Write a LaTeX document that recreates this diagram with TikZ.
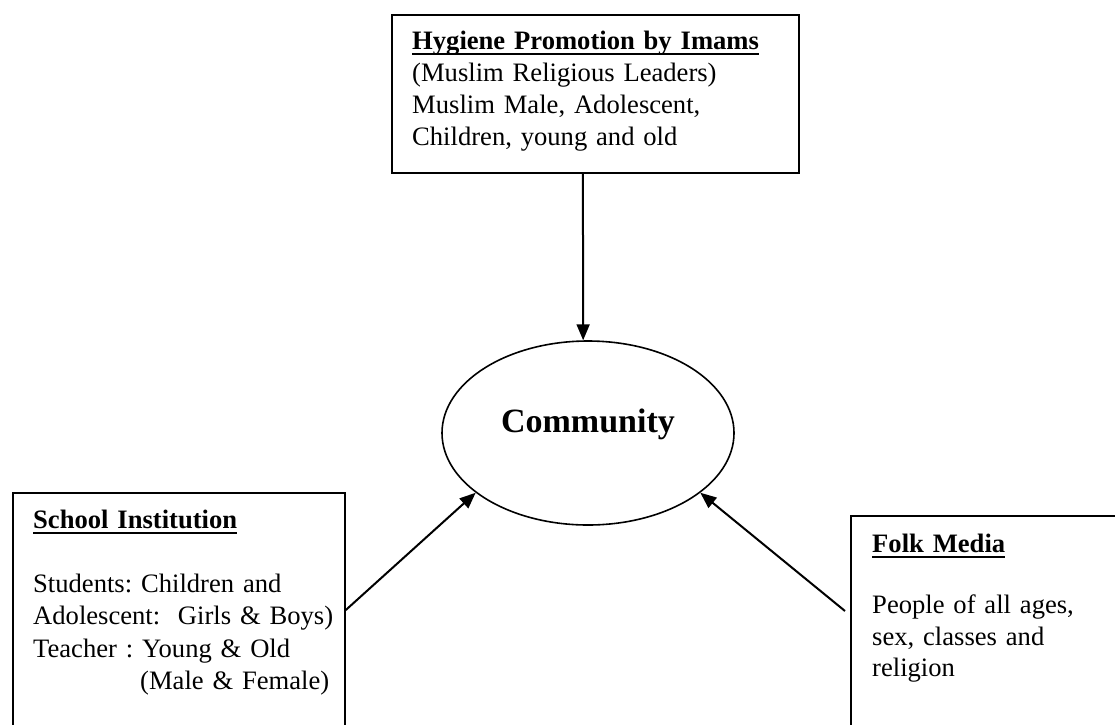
\documentclass[tikz,border=0pt]{standalone}
\usepackage{fontspec}
\setmainfont{Liberation Serif}
\usetikzlibrary{shapes.geometric,arrows.meta}
\newcommand\myul[1]{\setbox0\hbox{#1}\rlap{\rule[-6.3pt]{\wd0}{2.6pt}}\box0}
\begin{document}
\frenchspacing
\begin{tikzpicture}[x=1pt,y=-1pt,
  boxstyle/.style={draw,line width=1.8pt,rectangle,anchor=north west,inner sep=0pt},
  txt/.style={anchor=base west,inner sep=0pt,text width=#1,align=left},
  arr/.style={line width=2pt,-{Triangle[length=16pt,width=13pt]}}]
\clip (0,0) rectangle (1115,724);
% boxes
\node[boxstyle,minimum width=407pt,minimum height=158pt] (imams) at (391,14) {};
\node[boxstyle,minimum width=332pt,minimum height=260pt] (school) at (12,492) {};
\node[boxstyle,minimum width=300pt,minimum height=240pt] (folk) at (850,515) {};
% community
\node[draw,line width=1.6pt,ellipse,minimum width=292pt,minimum height=184pt,inner sep=0pt,
  font=\fontsize{34}{40}\selectfont\bfseries,text height=8pt,text depth=10pt] (community) at (588,433) {Community};
% texts
\node[txt=380pt,font=\fontsize{26.6}{32.3}\selectfont\frenchspacing] (imamstxt) at (412,49)
  {\textbf{\myul{Hygiene Promotion by Imams}}\\
   (Muslim Religious Leaders)\\
   Muslim Male, Adolescent,\\
   Children, young and old};
\node[txt=310pt,font=\fontsize{26.6}{32.2}\selectfont\frenchspacing] (schooltxt) at (33,528)
  {\textbf{\myul{School Institution}}\\[32.5pt]
   Students: Children and\\
   Adolescent:~~Girls \& Boys)\\
   Teacher : Young \& Old\\
   \hspace*{107pt}(Male \& Female)};
\node[txt=240pt,font=\fontsize{26.6}{31.5}\selectfont\frenchspacing] (folktxt) at (872,552)
  {\textbf{\myul{Folk Media}}\\[30pt]
   People of all ages,\\
   sex, classes and\\
   religion};
% connectors
\draw[arr] ([xshift=-12.5pt]imams.south) -- (community.93.7);
\draw[arr] ([yshift=-118pt]school.north east) -- (community.208.2);
\draw[arr] ([xshift=-5pt,yshift=-96pt]folk.north west) -- (community.332.2);
\end{tikzpicture}
\end{document}
